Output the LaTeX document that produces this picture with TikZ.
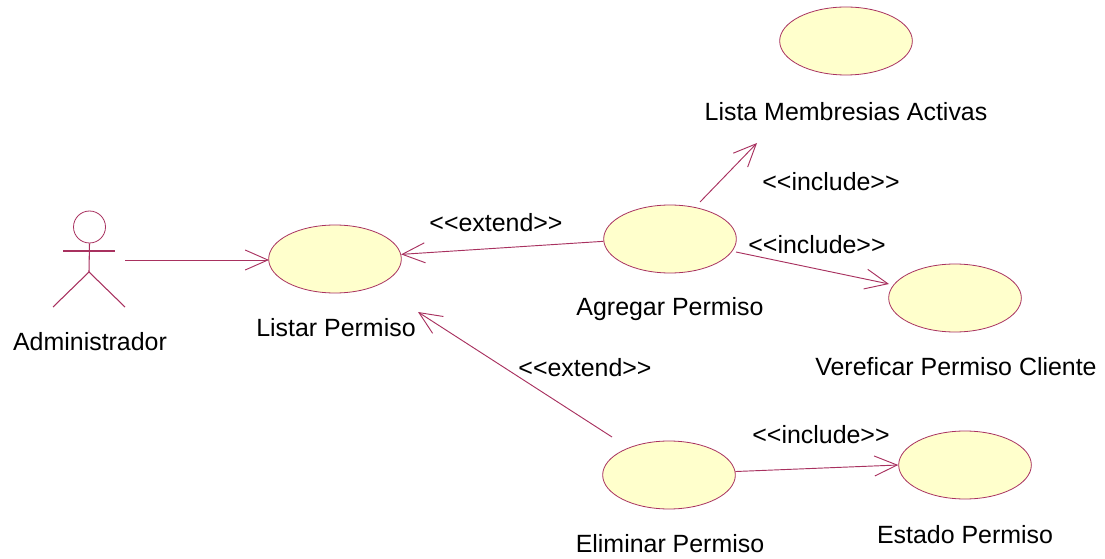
\documentclass[tikz,border=0pt]{standalone}
\usepackage{fontspec}
\setmainfont{Liberation Sans}
\usetikzlibrary{arrows.meta,shapes.geometric}
\definecolor{umlline}{HTML}{A8315F}
\definecolor{umlfill}{HTML}{FFFFCC}
\newcommand{\ltlt}{<{}<}
\newcommand{\gtgt}{>{}>}
\tikzset{
  x=0.75pt,y=-0.75pt,
  usecase/.style={ellipse,draw=umlline,fill=umlfill,line width=0.6pt,minimum width=99.5pt,minimum height=51pt,inner sep=0pt},
  lbl/.style={inner sep=0pt,text=black,font=\fontsize{18.7}{20}\selectfont,anchor=center},
  conn/.style={draw=umlline,line width=0.7pt,-{Straight Barb[length=17pt,width=15pt,line width=0.7pt]}},
  actorline/.style={draw=umlline,line width=0.8pt}
}
\begin{document}
\begin{tikzpicture}
\useasboundingbox (0,0) rectangle (1105,559);
\node[usecase] (lista) at (846,41) {};
\node[usecase] (listar) at (335,259) {};
\node[usecase] (agregar) at (670,239) {};
\node[usecase] (vereficar) at (955,298) {};
\node[usecase] (eliminar) at (669,475) {};
\node[usecase] (estado) at (965,465) {};
\node[lbl] (tlista) at (846,112) {Lista Membresias Activas};
\node[lbl] (tlistar) at (336,328) {Listar Permiso};
\node[lbl] (tadmin) at (90,342) {Administrador};
\node[lbl] (tagregar) at (670,309) {Agregar Permiso};
\node[lbl] (tvereficar) at (956,367) {Vereficar Permiso Cliente};
\node[lbl] (teliminar) at (670,544) {Eliminar Permiso};
\node[lbl] (testado) at (965,535) {Estado Permiso};
\node[lbl] (inc1) at (831,182) {\ltlt include\gtgt};
\node[lbl] (inc2) at (817,245) {\ltlt include\gtgt};
\node[lbl] (inc3) at (821,435) {\ltlt include\gtgt};
\node[lbl] (ext1) at (496,223) {\ltlt extend\gtgt};
\node[lbl] (ext2) at (585,368) {\ltlt extend\gtgt};
% actor
\node[circle,draw=umlline,line width=0.6pt,fill=white,minimum size=24pt,inner sep=0pt] (head) at (89.5,227) {};
\coordinate (neck) at (head.south);
\coordinate (hip) at (89,272);
\coordinate (armL) at (63,251);
\coordinate (armR) at (115,251);
\coordinate (legL) at (53,307);
\coordinate (legR) at (125,307);
\draw[actorline] (neck) -- (hip);
\draw[actorline] (armL) -- (armR);
\draw[actorline] (legL) -- (hip) -- (legR);
% connectors
\coordinate (actorhand) at (125,260);
\coordinate (listarwest) at (269,260);
\coordinate (agrstart) at (700,202);
\coordinate (listatip) at (757,143);
\coordinate (listartip) at (418,312);
\coordinate (elimstart) at (612,437);
\coordinate (agrstartb) at (736,252);
\coordinate (verefitip) at (889,284);
\draw[conn] (actorhand) -- (listarwest);
\draw[conn] (agregar.182) -- (listar.4);
\draw[conn] (elimstart) -- (listartip);
\draw[conn] (agrstart) -- (listatip);
\draw[conn] (agrstartb) -- (verefitip);
\draw[conn] (eliminar.3.4) -- (estado.west);
\end{tikzpicture}
\end{document}
